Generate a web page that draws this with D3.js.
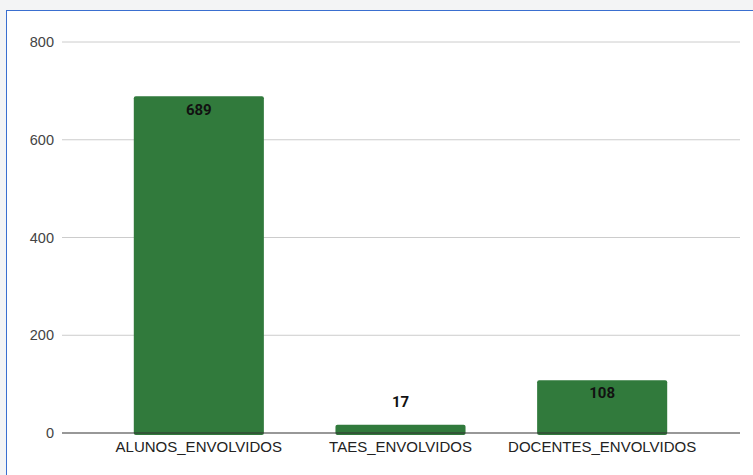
<!DOCTYPE html>
<html>
<head>
<meta charset="utf-8">
<script src="https://cdn.jsdelivr.net/npm/d3@7"></script>
<style>
  body { margin: 0; background: #f3f4f5; }
  #chart { position: absolute; left: 6px; top: 10px; width: 747px; height: 465px;
           background: #fff; border-left: 1.5px solid #3a6fd0; border-top: 1.5px solid #3a6fd0; }
</style>
</head>
<body>
<div id="chart"></div>
<script>
// data
var categorias = ["ALUNOS_ENVOLVIDOS", "TAES_ENVOLVIDOS", "DOCENTES_ENVOLVIDOS"];
var valores = [689, 17, 108];
var yTicks = [0, 200, 400, 600, 800];

var width = 753, height = 475;

var svg = d3.select("body").append("svg")
    .attr("width", width)
    .attr("height", height)
    .style("position", "absolute")
    .style("left", 0)
    .style("top", 0);

// scales
var x = d3.scaleBand().domain(categorias).range([98, 703]).paddingInner(0.355).paddingOuter(0.1775);
var y = d3.scaleLinear().domain([0, 800]).range([433, 42]);

// gridlines
svg.selectAll(".grid")
    .data(yTicks.filter(function (d) { return d > 0; }))
    .enter().append("line")
    .attr("x1", 62).attr("x2", 740)
    .attr("y1", function (d) { return y(d); })
    .attr("y2", function (d) { return y(d); })
    .attr("stroke", "#cccccc")
    .attr("stroke-width", 1);

// y labels
svg.selectAll(".ylab")
    .data(yTicks)
    .enter().append("text")
    .attr("x", 54)
    .attr("y", function (d) { return y(d); })
    .attr("dy", "0.35em")
    .attr("text-anchor", "end")
    .style("font", "14.5px 'Liberation Sans', Arial, sans-serif")
    .style("fill", "#444")
    .text(function (d) { return d; });

// bars
svg.selectAll(".bar")
    .data(valores)
    .enter().append("rect")
    .attr("x", function (d, i) { return x(categorias[i]); })
    .attr("width", x.bandwidth())
    .attr("y", function (d) { return y(d); })
    .attr("height", function (d) { return y(0) - y(d) + 2; })
    .attr("rx", 2)
    .attr("fill", "#317a3c");

// baseline
svg.append("line")
    .attr("x1", 62).attr("x2", 740)
    .attr("y1", y(0)).attr("y2", y(0))
    .attr("stroke", "#333")
    .attr("stroke-width", 1.2);

// value labels: inside when the bar is tall enough, above otherwise
svg.selectAll(".val")
    .data(valores)
    .enter().append("text")
    .attr("x", function (d, i) { return x(categorias[i]) + x.bandwidth() / 2; })
    .attr("y", function (d) { return y(0) - y(d) > 30 ? y(d) + 13 : y(d) - 23; })
    .attr("dy", "0.35em")
    .attr("text-anchor", "middle")
    .style("font", "bold 15px Roboto, 'Liberation Sans', sans-serif")
    .style("fill", "#111")
    .text(function (d) { return d; });

// x labels
svg.selectAll(".xlab")
    .data(categorias)
    .enter().append("text")
    .attr("x", function (d) { return x(d) + x.bandwidth() / 2; })
    .attr("y", 447)
    .attr("dy", "0.35em")
    .attr("text-anchor", "middle")
    .style("font", "15px 'Liberation Sans', Arial, sans-serif")
    .style("fill", "#222")
    .text(function (d) { return d; });
</script>
</body>
</html>
